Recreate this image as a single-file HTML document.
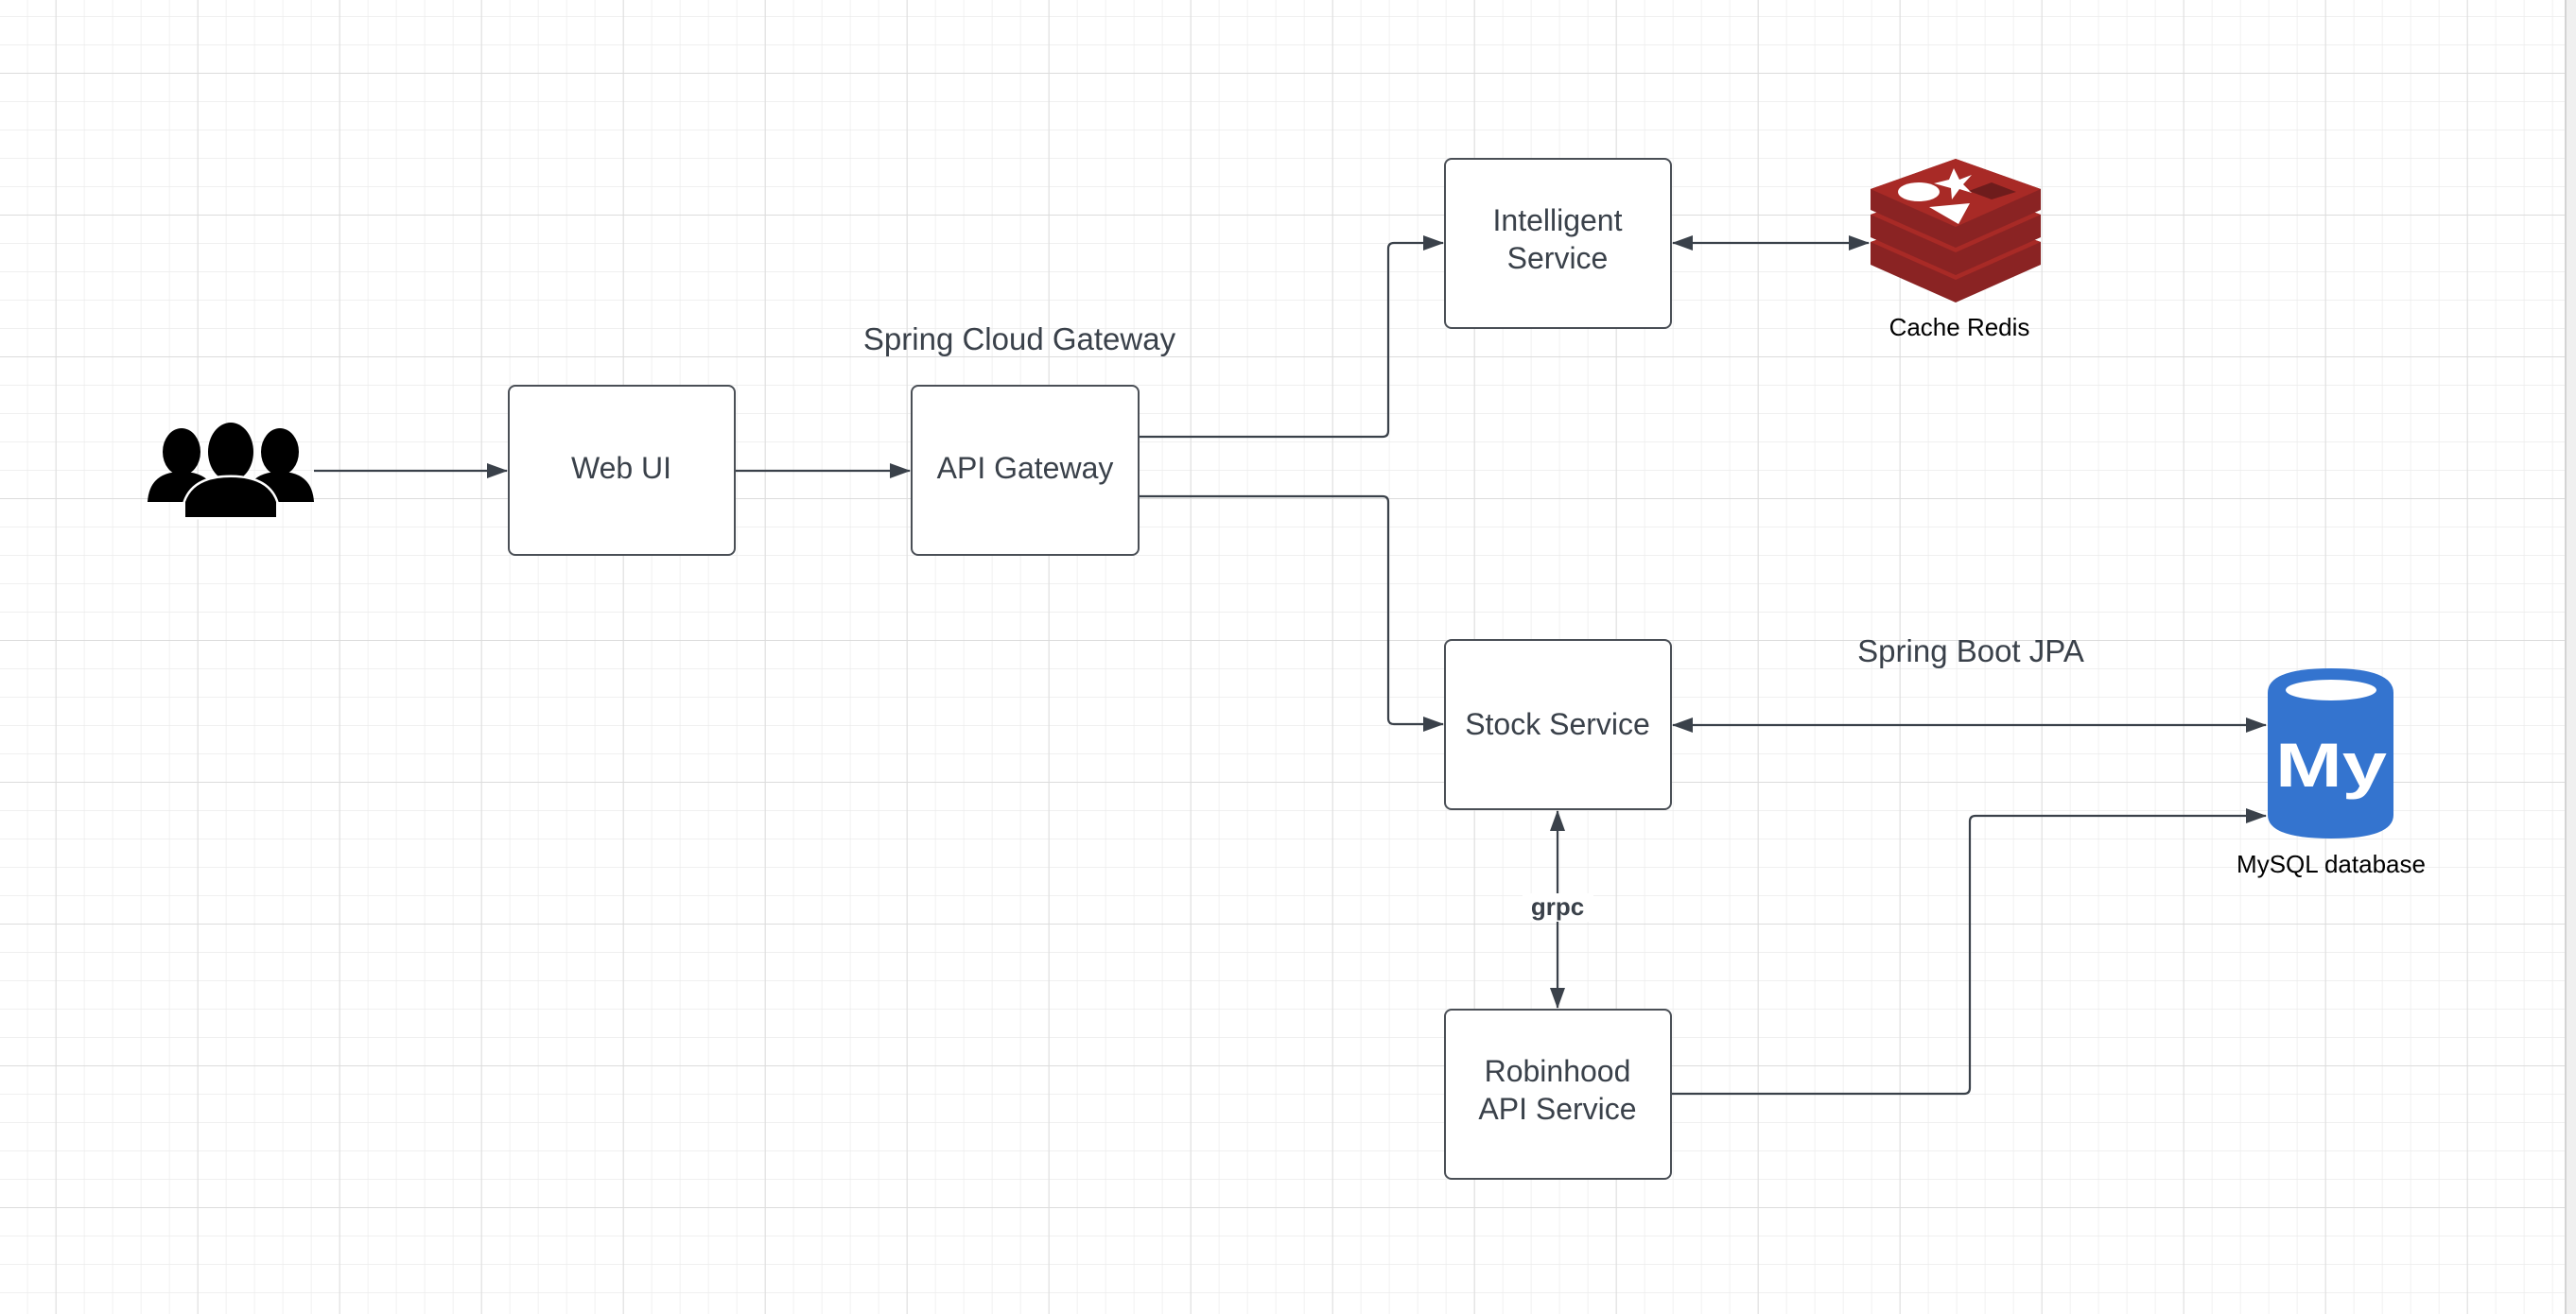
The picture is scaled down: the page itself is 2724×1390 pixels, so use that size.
<!DOCTYPE html>
<html><head><meta charset="utf-8"><style>
html,body{margin:0;padding:0;background:#fff;}
svg{display:block;}
</style></head><body>
<svg width="2724" height="1390" viewBox="0 0 2724 1390" xmlns="http://www.w3.org/2000/svg" font-family="Liberation Sans, sans-serif">
<defs>
<pattern id="minor" width="30" height="30" patternUnits="userSpaceOnUse" x="28.7" y="17">
<path d="M0 0H30M0 0V30" stroke="#ececec" stroke-width="1.5" fill="none"/>
</pattern>
<pattern id="major" width="150" height="150" patternUnits="userSpaceOnUse" x="58.7" y="77">
<path d="M0 0H150M0 0V150" stroke="#dcdcdc" stroke-width="2" fill="none"/>
</pattern>
<marker id="ahb" markerWidth="22" markerHeight="16" refX="21" refY="8" orient="auto-start-reverse" markerUnits="userSpaceOnUse" viewBox="0 0 22 16">
<path d="M0 0L22 8L0 16Z" fill="#3a414a"/>
</marker>
</defs>
<rect width="2724" height="1390" fill="url(#minor)"/>
<rect width="2724" height="1390" fill="url(#major)"/>
<rect x="2713" y="0" width="11" height="1390" fill="#f0f0f0"/>
<line x1="2713" y1="0" x2="2713" y2="1390" stroke="#d4d4d4" stroke-width="2"/>

<!-- people icon -->
<g fill="#000">
<ellipse cx="192" cy="478" rx="20" ry="25"/>
<ellipse cx="244" cy="478" rx="24" ry="31"/>
<ellipse cx="296" cy="478" rx="20" ry="25"/>
<path d="M156 531 Q158 499 192 499 Q212 499 222 510 L200 531 Z"/>
<path d="M332 531 Q330 499 296 499 Q276 499 266 510 L288 531 Z"/>
<path d="M196 547 L196 531 Q205 505 244 505 Q283 505 292 531 L292 547 Z" stroke="#fff" stroke-width="5" paint-order="stroke"/>
</g>

<!-- connectors -->
<g stroke="#3a414a" stroke-width="2.2" fill="none">
<line x1="332" y1="498" x2="536" y2="498" marker-end="url(#ahb)"/>
<line x1="777" y1="498" x2="962" y2="498" marker-end="url(#ahb)"/>
<path d="M1204 462 H1462 Q1468 462 1468 456 V263 Q1468 257 1474 257 H1526" marker-end="url(#ahb)"/>
<path d="M1204 525 H1462 Q1468 525 1468 531 V760 Q1468 766 1474 766 H1526" marker-end="url(#ahb)"/>
<line x1="1769" y1="257" x2="1976" y2="257" marker-start="url(#ahb)" marker-end="url(#ahb)"/>
<line x1="1769" y1="767" x2="2396" y2="767" marker-start="url(#ahb)" marker-end="url(#ahb)"/>
<line x1="1647" y1="858" x2="1647" y2="1066" marker-start="url(#ahb)" marker-end="url(#ahb)"/>
<path d="M1767 1157 H2077 Q2083 1157 2083 1151 V869 Q2083 863 2089 863 H2396" marker-end="url(#ahb)"/>
</g>

<!-- boxes -->
<g fill="#fff" stroke="#4a4f56" stroke-width="2">
<rect x="538" y="408" width="239" height="179" rx="7"/>
<rect x="964" y="408" width="240" height="179" rx="7"/>
<rect x="1528" y="168" width="239" height="179" rx="7"/>
<rect x="1528" y="677" width="239" height="179" rx="7"/>
<rect x="1528" y="1068" width="239" height="179" rx="7"/>
</g>
<rect x="1610" y="945" width="75" height="30" fill="#fff"/>
<g fill="#3a414a" font-size="32" text-anchor="middle">
<text x="657" y="506">Web UI</text>
<text x="1084" y="506">API Gateway</text>
<text x="1647" y="244">Intelligent</text>
<text x="1647" y="284">Service</text>
<text x="1647" y="777">Stock Service</text>
<text x="1647" y="1144">Robinhood</text>
<text x="1647" y="1184">API Service</text>
<text x="1078" y="370" font-size="33">Spring Cloud Gateway</text>
<text x="2084" y="700" font-size="33">Spring Boot JPA</text>
<text x="1647" y="968" font-size="26" font-weight="bold">grpc</text>
</g>

<!-- redis -->
<g>
<path d="M1978 256 L2068 224 L2158 256 L2158 280 L2068 320 L1978 280Z" fill="#8a2323"/>
<path d="M1978 256 L2068 224 L2158 256 L2068 296Z" fill="#a82a26"/>
<path d="M1978 227 L2068 195 L2158 227 L2158 251 L2068 291 L1978 251Z" fill="#8a2323"/>
<path d="M1978 227 L2068 195 L2158 227 L2068 267Z" fill="#a82a26"/>
<path d="M1978 200 L2068 168 L2158 200 L2158 222 L2068 262 L1978 222Z" fill="#8a2323"/>
<path d="M1978 200 L2068 168 L2158 200 L2068 240Z" fill="#a82a26"/>
<ellipse cx="2029" cy="203" rx="22" ry="10" fill="#fff"/>
<path d="M2040 219 L2083 215 L2071 237Z" fill="#fff"/>
<path d="M2066 178 L2072 190 L2085 185 L2076 195 L2085 204 L2072 200 L2064 211 L2063 199 L2045 194 L2061 190Z" fill="#fff"/>
<path d="M2082 202 L2106 193 L2132 203 L2106 211Z" fill="#6e1c1c"/>
</g>
<text x="2072" y="355" font-size="26" fill="#000" text-anchor="middle">Cache Redis</text>

<!-- mysql -->
<g>
<path d="M2398 733 Q2398 707 2465 707 Q2531 707 2531 733 V862 Q2531 887 2465 887 Q2398 887 2398 862Z" fill="#3474cf"/>
<ellipse cx="2465" cy="730" rx="48" ry="11" fill="#fff"/>
<text x="2465" y="832" font-size="66" font-weight="bold" fill="#fff" text-anchor="middle" textLength="118" lengthAdjust="spacingAndGlyphs">My</text>
</g>
<text x="2465" y="923" font-size="26" fill="#000" text-anchor="middle">MySQL database</text>
</svg>
</body></html>
